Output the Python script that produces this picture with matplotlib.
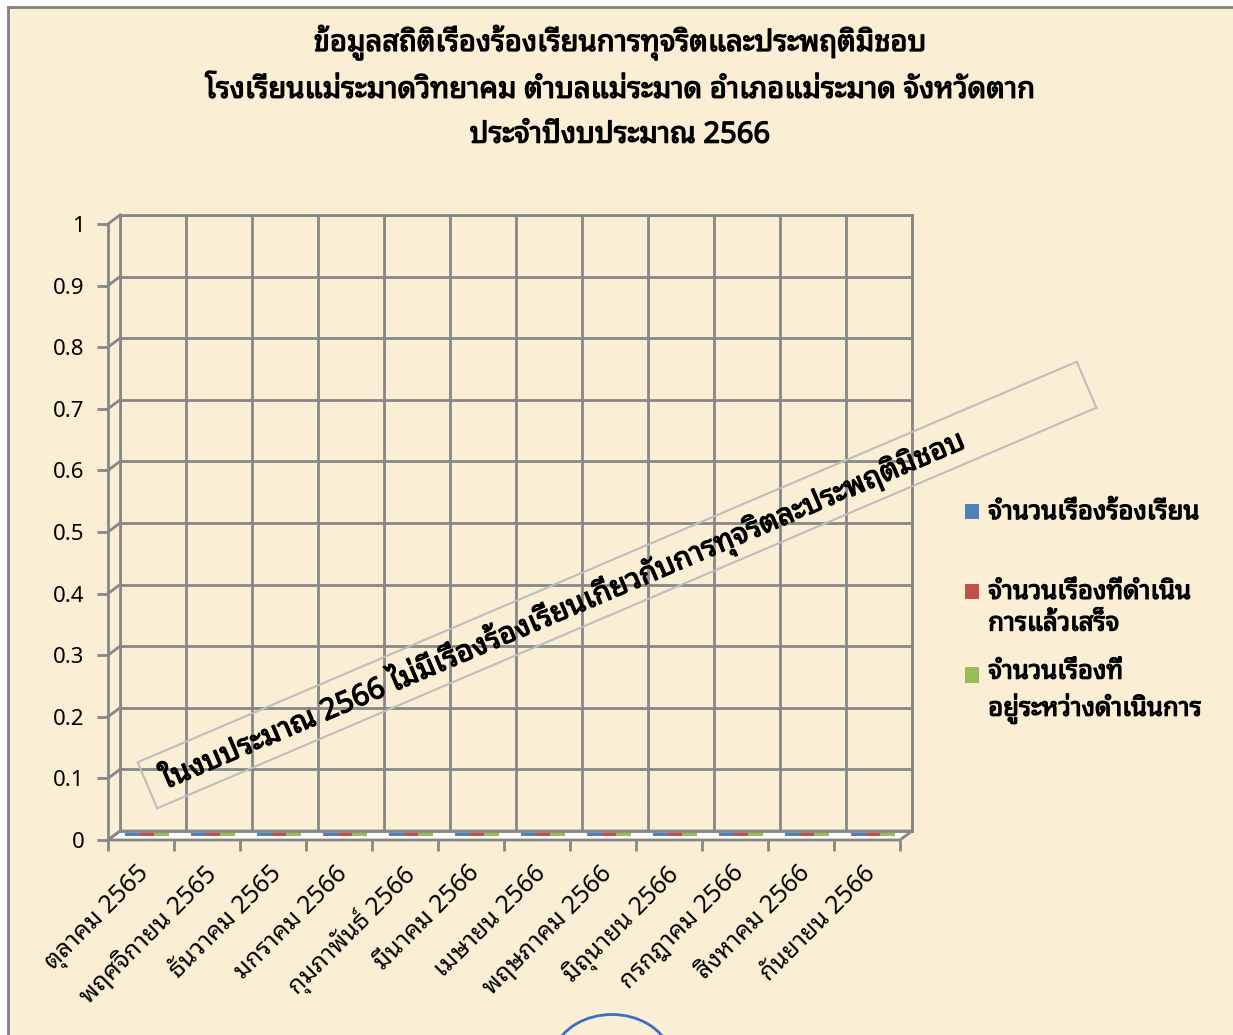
import matplotlib
matplotlib.use("Agg")
import numpy as np
import matplotlib.pyplot as plt
import matplotlib.patheffects as pe
from matplotlib.patches import Polygon, Rectangle, Arc
from matplotlib.lines import Line2D
from matplotlib.container import BarContainer
from matplotlib.legend_handler import HandlerPatch

plt.rcParams['font.family'] = ['Noto Sans Thai Looped', 'Loma', 'DejaVu Sans']

# data
months = ['ตุลาคม 2565', 'พฤศจิกายน 2565', 'ธันวาคม 2565', 'มกราคม 2566',
          'กุมภาพันธ์ 2566', 'มีนาคม 2566', 'เมษายน 2566', 'พฤษภาคม 2566',
          'มิถุนายน 2566', 'กรกฎาคม 2566', 'สิงหาคม 2566', 'กันยายน 2566']
complaints = [0, 0, 0, 0, 0, 0, 0, 0, 0, 0, 0, 0]
finished = [0, 0, 0, 0, 0, 0, 0, 0, 0, 0, 0, 0]
in_progress = [0, 0, 0, 0, 0, 0, 0, 0, 0, 0, 0, 0]
series_names = ['จำนวนเรื่องร้องเรียน\n',
                'จำนวนเรื่องที่ดำเนิน\nการแล้วเสร็จ',
                'จำนวนเรื่องที่\nอยู่ระหว่างดำเนินการ']
colors = ['#4F81BD', '#C0504D', '#9BBB59']
yticks = [0, 0.1, 0.2, 0.3, 0.4, 0.5, 0.6, 0.7, 0.8, 0.9, 1]
ytick_labels = ['0', '0.1', '0.2', '0.3', '0.4', '0.5', '0.6', '0.7', '0.8', '0.9', '1']
title = ('ข้อมูลสถิติเรื่องร้องเรียนการทุจริตและประพฤติมิชอบ\n'
         'โรงเรียนแม่ระมาดวิทยาคม ตำบลแม่ระมาด อำเภอแม่ระมาด จังหวัดตาก\n'
         'ประจำปีงบประมาณ 2566')
note = 'ในงบประมาณ 2566 ไม่มีเรื่องร้องเรียนเกี่ยวกับการทุจริตละประพฤติมิชอบ'

W, H = 1233, 1035
BG = '#FAEFD4'
GRID = '#878787'
BOLD = [pe.withStroke(linewidth=0.9, foreground='black')]


def box(x0, y0, x1, y1):
    # pixel box (top-left origin) -> axes rect
    return [x0 / W, 1 - y1 / H, (x1 - x0) / W, (y1 - y0) / H]


def P(x, y):
    return (x / W, 1 - y / H)


fig = plt.figure(figsize=(W / 100, H / 100), dpi=100)
fig.patch.set_facecolor('white')
fig.add_artist(Rectangle(P(8, H), (W - 8) / W, (H - 8) / H, facecolor=BG,
                         edgecolor='none', transform=fig.transFigure, zorder=-5))
fig.add_artist(Line2D([8 / W, 8 / W], [0, 1 - 7 / H], color='#808080', lw=2))
fig.add_artist(Line2D([8 / W, 1], [1 - 7 / H, 1 - 7 / H], color='#808080', lw=2))

# depth offset of 3d look (px)
DX, DY = 12, 9
bx0, bx1, by0, by1 = 120, 912, 215, 831

# back wall with grid
back = fig.add_axes(box(bx0, by0, bx1, by1))
back.set_facecolor('none')
back.set_xlim(0, len(months))
back.set_ylim(0, 1)
back.set_yticks(yticks)
back.set_xticks(np.arange(len(months) + 1))
back.grid(True, color=GRID, lw=2)
back.tick_params(length=0, labelleft=False, labelbottom=False)
for s in back.spines.values():
    s.set_color(GRID)
    s.set_linewidth(2)

# left wall connectors
for v in yticks:
    yb = by1 - v * (by1 - by0)
    fig.add_artist(Line2D([P(bx0 - DX, yb + DY)[0], P(bx0, yb)[0]],
                          [P(bx0 - DX, yb + DY)[1], P(bx0, yb)[1]],
                          color=GRID, lw=2))

# floor
floor = Polygon([P(bx0 - DX, by1 + DY), P(bx1 - DX, by1 + DY), P(bx1, by1), P(bx0, by1)],
                closed=True, facecolor='#FEFCF6', edgecolor=GRID, lw=2,
                transform=fig.transFigure, zorder=-1)
fig.add_artist(floor)

# bars (lie on the floor, mid depth)
mid = fig.add_axes(box(bx0 - DX / 2, by0 + DY / 2, bx1 - DX / 2, by1 + DY / 2))
mid.set_xlim(0, len(months))
mid.set_ylim(0, 1)
mid.axis('off')
x = np.arange(len(months)) + 0.5
bw = 0.222
thick = 0.0065
handles = []
for i, vals in enumerate([complaints, finished, in_progress]):
    b = mid.bar(x + (i - 1) * bw, np.array(vals) + thick, width=bw, bottom=-thick / 2,
                color=colors[i], label=series_names[i])
    handles.append(b)

# front axes: ticks and labels
front = fig.add_axes(box(bx0 - DX, by0 + DY, bx1 - DX, by1 + DY))
front.set_facecolor('none')
front.set_xlim(0, len(months))
front.set_ylim(0, 1)
for k in ['top', 'right', 'bottom']:
    front.spines[k].set_visible(False)
front.spines['left'].set_color(GRID)
front.spines['left'].set_linewidth(2)
front.set_yticks(yticks)
front.set_yticklabels(ytick_labels, fontsize=16)
front.set_xticks(np.arange(len(months) + 1), minor=True)
front.set_xticks(x - 0.06)
front.set_xticklabels(months, rotation=45, ha='right', rotation_mode='anchor', fontsize=18)
front.tick_params(axis='y', length=8, width=2, color=GRID, pad=9)
front.tick_params(axis='x', which='major', length=0, pad=15)
front.tick_params(axis='x', which='minor', length=8, width=2, color=GRID)

# title
fig.text(620 / W, 1 - 24 / H, title, ha='center', va='top', fontsize=21,
         linespacing=1.72, path_effects=BOLD)

# rotated note box
ang = 23.1
cx, cy = 617, 585
L, Wd = 1021, 50
th = np.deg2rad(ang)
ux, uy = np.cos(th), -np.sin(th)
vx, vy = np.sin(th), np.cos(th)
corners = []
for a, b in [(-1, -1), (1, -1), (1, 1), (-1, 1)]:
    corners.append(P(cx + a * L / 2 * ux + b * Wd / 2 * vx, cy + a * L / 2 * uy + b * Wd / 2 * vy))
fig.add_artist(Polygon(corners, closed=True, facecolor='none', edgecolor='#BDBDBD',
                       lw=1.5, transform=fig.transFigure))
fig.text(166 / W, 1 - 789 / H, note, rotation=ang, rotation_mode='anchor',
         ha='left', va='baseline', fontsize=21.2, path_effects=BOLD)


# legend: square sits on the first line of each entry
def up_patch(legend, orig_handle, xdescent, ydescent, width, height, fontsize):
    return Rectangle((-xdescent, -ydescent + 12.5), width, height)


hp = HandlerPatch(patch_func=up_patch,
                  update_func=lambda h, orig: h.update_from(orig.patches[0]))
leg = fig.legend(handles=handles, labels=series_names, loc='upper left',
                 bbox_to_anchor=(942 / W, 1 - 477 / H), frameon=False,
                 prop={'size': 18.5}, handlelength=0.55, handleheight=0.55,
                 handletextpad=0.35, labelspacing=0.9, handler_map={BarContainer: hp})
for t in leg.get_texts():
    t.set_linespacing(1.35)
    t.set_path_effects(BOLD)

# pen mark at the bottom
fig.add_artist(Arc(P(612, 1062), 120 / W, 95 / H, theta1=15, theta2=165,
                   color='#3A6FC4', lw=2, transform=fig.transFigure))

fig.savefig('out.png', dpi=100, facecolor=fig.get_facecolor())
